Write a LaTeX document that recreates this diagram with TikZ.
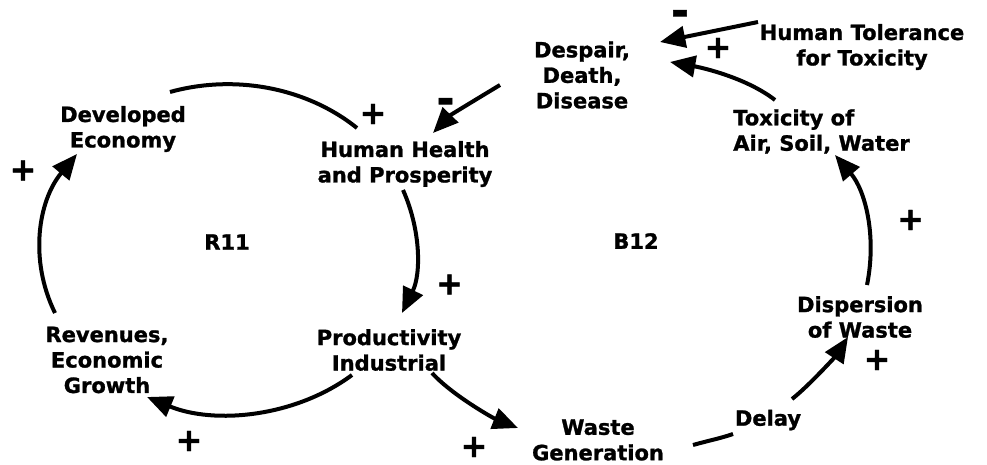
\documentclass[tikz,border=0pt]{standalone}
\usepackage{fontspec}
\setmainfont{DejaVu Sans}[BoldFeatures={FakeBold=1.2}]
\usetikzlibrary{arrows.meta}
\begin{document}
\begin{tikzpicture}[x=0.75pt,y=0.75pt,
  lbl/.style={font=\bfseries\fontsize{15.75}{19.1}\selectfont, align=center, inner sep=0pt},
  plus/.style={font=\bfseries\fontsize{24}{24}\selectfont, inner sep=0pt},
  minus/.style={font=\bfseries\fontsize{32}{32}\selectfont, inner sep=0pt, anchor=base},
  link/.style={line width=3pt},
  arr/.style={link, -{Triangle[length=19pt,width=16pt]}}]
\useasboundingbox (0,0) rectangle (987,-464);

% variables
\node[lbl] (de)  at (582,-75)  {Despair,\\Death,\\Disease};
\node[lbl] (ht)  at (862,-47)  {Human Tolerance\\for Toxicity};
\node[lbl, align=left, anchor=west] (tx) at (733,-131.5) {Toxicity of\\Air, Soil, Water};
\node[lbl] (dev) at (123,-129) {Developed\\Economy};
\node[lbl] (hh)  at (405,-164) {Human Health\\and Prosperity};
\node[lbl] (pi)  at (389,-350) {Productivity\\Industrial};
\node[lbl] (rev) at (107,-360) {Revenues,\\Economic\\Growth};
\node[lbl] (wg)  at (598,-440) {Waste\\Generation};
\node[lbl] (delay) at (768,-420) {Delay};
\node[lbl] (disp) at (860,-317) {Dispersion\\of Waste};

% loop labels
\node[lbl] (r11) at (227,-242) {R11};
\node[lbl] (b12) at (636,-241) {B12};

% polarity signs
\node[minus] (m1) at (680,-25.5) {-};
\node[minus] (m2) at (445.5,-113.5) {-};
\node[plus] (s1) at (718,-48) {+};
\node[plus] (s2) at (373,-114) {+};
\node[plus] (s3) at (23,-170.5) {+};
\node[plus] (s4) at (449.5,-284.5) {+};
\node[plus] (s5) at (189,-441) {+};
\node[plus] (s6) at (474,-447) {+};
\node[plus] (s7) at (877,-360) {+};
\node[plus] (s8) at (910.5,-220) {+};

% R11 loop
\draw[arr] ([shift={(-52,47)}]rev.center) .. controls ([shift={(-78,100)}]rev.center)
  and ([shift={(-85,-72)}]dev.center) .. ([shift={(-46,-25)}]dev.center);
\draw[link] ([shift={(47,37)}]dev.center) .. controls ([shift={(112,55.1)}]dev.center)
  and ([shift={(-98.1,76.2)}]hh.center) .. ([shift={(-48,36)}]hh.center);
\draw[arr] ([shift={(-2,-26)}]hh.center) .. controls ([shift={(15.8,-65.8)}]hh.center)
  and ([shift={(32.2,76.3)}]pi.center) .. ([shift={(13,37)}]pi.center);
\draw[arr] ([shift={(-37,-25)}]pi.center) .. controls ([shift={(-93.7,-67.1)}]pi.center)
  and ([shift={(107.4,-64.8)}]rev.center) .. ([shift={(40,-37)}]rev.center);

% B12 loop
\draw[arr] ([shift={(43,-23)}]pi.center) .. controls ([shift={(63,-45)}]pi.center)
  and ([shift={(-105,22)}]wg.center) .. ([shift={(-80,12)}]wg.center);
\draw[link] ([shift={(95,-5)}]wg.center) .. controls ([shift={(109,-1)}]wg.center)
  and ([shift={(-48,-18.5)}]delay.center) .. ([shift={(-35,-14)}]delay.center);
\draw[arr] ([shift={(24,21)}]delay.center) .. controls ([shift={(41.3,34.5)}]delay.center)
  and ([shift={(-24,-38.5)}]disp.center) .. ([shift={(-12,-20)}]disp.center);
\draw[arr] ([shift={(7,32)}]disp.center) .. controls ([shift={(17,82)}]disp.center)
  and ([shift={(132,-58.5)}]tx.west) .. ([shift={(102,-23.5)}]tx.west);
\draw[arr] ([shift={(42,31.5)}]tx.west) .. controls ([shift={(14.4,53)}]tx.west)
  and ([shift={(122.5,6.9)}]de.center) .. ([shift={(88,13)}]de.center);
\draw[arr] ([shift={(-104,25)}]ht.center) -- ([shift={(78,33)}]de.center);
\draw[arr] ([shift={(-82,-10)}]de.center) .. controls ([shift={(-103.4,-22.9)}]de.center)
  and ([shift={(45.4,49)}]hh.center) .. ([shift={(28,31)}]hh.center);
\end{tikzpicture}
\end{document}
